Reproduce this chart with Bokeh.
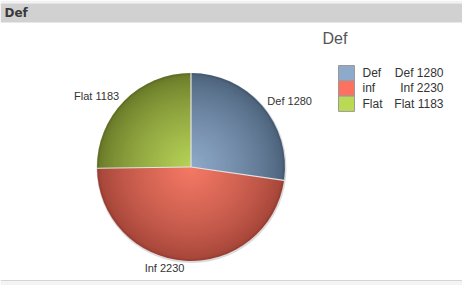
import numpy as np
from bokeh.plotting import figure
from bokeh.models import ColumnDataSource
from bokeh.core.properties import value
from bokeh.embed import file_html
from bokeh.resources import INLINE

# ---- data ----
chart_title = "Def"
legend_title = "Def"
categories = ["Def", "inf", "Flat"]
slice_labels = ["Def 1280", "Inf 2230", "Flat 1183"]
values = [1280, 2230, 1183]

# ---- styling ----
W, H = 462, 285
center_colors = [(0x8f, 0xab, 0xcb), (0xf6, 0x7a, 0x66), (0xb8, 0xd4, 0x58)]
edge_colors = [(0x4c, 0x61, 0x7a), (0xa2, 0x44, 0x38), (0x68, 0x78, 0x28)]
legend_colors = ["#8eaaca", "#fe7060", "#bcd955"]
FONT = "Liberation Sans"

def sy(y):  # screen y -> data y
    return H - y

p = figure(width=W, height=H, x_range=(0, W), y_range=(0, H),
           output_backend="svg", toolbar_location=None,
           min_border=0, outline_line_color=None)
p.axis.visible = False
p.grid.visible = False
p.background_fill_color = "white"
p.border_fill_color = "white"

# frame / title bar
p.quad(left=[0], right=[W], top=[sy(0)], bottom=[sy(3)], fill_color="#f2f2f2", line_color=None)
p.quad(left=[0], right=[W], top=[sy(3)], bottom=[sy(22)], fill_color="#d1d1d1", line_color=None)
p.quad(left=[0], right=[W], top=[sy(280)], bottom=[sy(H)], fill_color="#f4f4f4", line_color=None)
p.segment(x0=[0], x1=[W], y0=[sy(280)], y1=[sy(280)], line_color="#d4d4d4", line_width=1)
p.text(x=[4], y=[sy(12.5)], text=[chart_title], text_font=value("DejaVu Sans"),
       text_font_style="bold", text_font_size="12px", text_color="#3a3a3a",
       text_baseline="middle", text_align="left")

# pie
cx, cy, R = 190.5, sy(166.5), 94.0
vals = np.array(values, dtype=float)
frac = vals / vals.sum()
cum = np.concatenate([[0], np.cumsum(frac)])
starts = np.pi / 2 - 2 * np.pi * cum[:-1]
ends = np.pi / 2 - 2 * np.pi * cum[1:]

# soft shadow
p.circle(x=[cx + 0.5], y=[cy - 1], radius=R + 1, fill_color="#b0b0b0", fill_alpha=0.45, line_color=None)

N = 45
xs, ys, rs, sa, ea, cols = [], [], [], [], [], []
for k in range(N):
    r = R * (1 - k / N)
    t = (k / N) ** 0.75
    if k == 0:
        t = -0.08
    for i in range(len(values)):
        c0, c1 = np.array(edge_colors[i]), np.array(center_colors[i])
        c = np.clip(c0 + (c1 - c0) * t, 0, 255).astype(int)
        xs.append(cx); ys.append(cy); rs.append(r)
        sa.append(starts[i]); ea.append(ends[i])
        cols.append("#%02x%02x%02x" % tuple(c))
src = ColumnDataSource(dict(x=xs, y=ys, r=rs, s=sa, e=ea, c=cols))
p.wedge(x="x", y="y", radius="r", start_angle="s", end_angle="e", direction="clock",
        fill_color="c", line_color=None, source=src)

# dividers
p.segment(x0=[cx] * len(values), y0=[cy] * len(values),
          x1=list(cx + R * np.cos(starts)), y1=list(cy + R * np.sin(starts)),
          line_color="#e4e4e4", line_width=1.2)

# slice labels
mids = (starts + ends) / 2
lr = 101
lx = cx + lr * np.cos(mids)
ly = cy + lr * np.sin(mids)
aligns = ["left" if np.cos(m) > 0 else "right" for m in mids]
lsrc = ColumnDataSource(dict(x=lx, y=ly, t=slice_labels, a=aligns))
p.text(x="x", y="y", text="t", text_align="a", text_baseline="middle",
       text_font=value(FONT), text_font_size="11px", text_color="#333333", source=lsrc)

# legend
p.text(x=[322], y=[sy(38)], text=[legend_title], text_font=value(FONT), text_font_size="16px",
       text_color="#555555", text_baseline="middle", text_align="left")
n = len(categories)
row_top = 65.0
row_h = 15.3
tops = [sy(row_top + i * row_h) for i in range(n)]
bots = [sy(row_top + (i + 1) * row_h) for i in range(n)]
mid_y = [sy(row_top + (i + 0.5) * row_h) for i in range(n)]
p.quad(left=[338] * n, right=[354] * n, top=tops, bottom=bots,
       fill_color=legend_colors, line_color="#9a9a9a", line_width=1)
p.text(x=[362] * n, y=mid_y, text=categories, text_font=value(FONT), text_font_size="12px",
       text_color="#333333", text_baseline="middle", text_align="left")
p.text(x=[443] * n, y=mid_y, text=slice_labels, text_font=value(FONT), text_font_size="12px",
       text_color="#333333", text_baseline="middle", text_align="right")

open("out.html", "w").write(file_html(p, INLINE))
